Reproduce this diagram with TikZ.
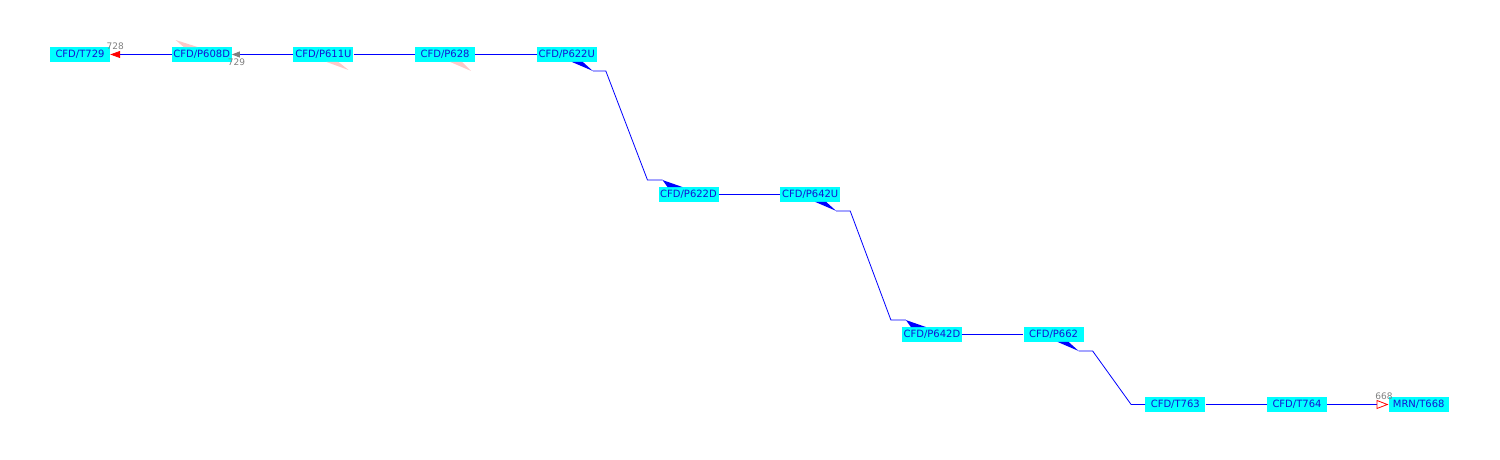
\documentclass[tikz,border=0pt]{standalone}
\usepackage{fontspec}
\setmainfont{DejaVu Sans}
\usetikzlibrary{positioning,arrows.meta}

\definecolor{boxcyan}{RGB}{0,255,255}
\definecolor{textblue}{RGB}{20,20,210}
\definecolor{ghostpink}{RGB}{255,200,200}
\tikzstyle{box} = [rectangle, minimum width=60pt, minimum height=14.5pt,
inner sep=0pt, fill=boxcyan, text=textblue, font=\fontsize{10}{12}\selectfont]
\tikzstyle{num} = [inner sep=0pt, text=gray, font=\fontsize{9}{10}\selectfont]
\tikzstyle{link} = [blue, line width=0.8pt]
\tikzstyle{wedge} = [fill=blue]
\tikzstyle{ghost} = [fill=ghostpink]

\begin{document}
\begin{tikzpicture}[x=1pt, y=1pt, node distance=121.7pt]
  \useasboundingbox (0,0) rectangle (1500,460);
  \node (t729) [box] at (80,405.5) {CFD/T729};
  \node (p608d) [box, right of=t729] {CFD/P608D};
  \node (p611u) [box, right of=p608d] {CFD/P611U};
  \node (p628) [box, right of=p611u] {CFD/P628};
  \node (p622u) [box, right of=p628] {CFD/P622U};
  \node (p622d) [box, right of=p622u, yshift=-140pt] {CFD/P622D};
  \node (p642u) [box, right of=p622d] {CFD/P642U};
  \node (p642d) [box, right of=p642u, yshift=-140pt] {CFD/P642D};
  \node (p662) [box, right of=p642d] {CFD/P662};
  \node (t763) [box, right of=p662, yshift=-70pt] {CFD/T763};
  \node (t764) [box, right of=t763] {CFD/T764};
  \node (mrn) [box, right of=t764] {MRN/T668};
  % connections
  \draw [link, -{Triangle[color=red, fill=red, length=10pt, width=7pt]}] (p608d) -- (t729)
    node [num, at end, anchor=south, xshift=5pt, yshift=4pt] {728};
  \draw [link, -{Triangle[color=gray, fill=gray, length=8pt, width=6pt]}] (p611u) -- (p608d)
    node [num, at end, anchor=south, xshift=4.5pt, yshift=-12pt] {729};
  \draw [link] (p611u) -- (p628);
  \draw [link] (p628) -- (p622u);
  \draw [link] (p622d) -- (p642u);
  \draw [link] (p642d) -- (p662);
  \draw [link] (t763) -- (t764);
  \draw [link, -{Triangle[open, color=red, length=12pt, width=9pt]}] (t764) -- (mrn)
    node [num, at end, anchor=south, xshift=-4.5pt, yshift=4pt] {668};
  % stair links
  \draw [link] ([xshift=26pt, yshift=-9pt]p622u.south) -- ++(13,0)
    -- ([xshift=-41pt, yshift=7pt]p622d.north) -- ++(15,0);
  \draw [link] ([xshift=26pt, yshift=-9pt]p642u.south) -- ++(14,0)
    -- ([xshift=-41pt, yshift=7pt]p642d.north) -- ++(15,0);
  \draw [link] ([xshift=25pt, yshift=-9pt]p662.south) -- ++(14,0)
    -- ([xshift=-14pt]t763.west) -- (t763.west);
  % wedges
  \fill [wedge] ([xshift=5pt]p622u.south) -- ([xshift=16pt]p622u.south)
    -- ([xshift=26pt, yshift=-9pt]p622u.south) -- cycle;
  \fill [wedge] ([xshift=-26pt, yshift=7pt]p622d.north) -- ([xshift=-21pt]p622d.north)
    -- ([xshift=-6pt]p622d.north) -- cycle;
  \fill [wedge] ([xshift=5pt]p642u.south) -- ([xshift=16pt]p642u.south)
    -- ([xshift=26pt, yshift=-9pt]p642u.south) -- cycle;
  \fill [wedge] ([xshift=-26pt, yshift=7pt]p642d.north) -- ([xshift=-21pt]p642d.north)
    -- ([xshift=-6pt]p642d.north) -- cycle;
  \fill [wedge] ([xshift=4pt]p662.south) -- ([xshift=15pt]p662.south)
    -- ([xshift=25pt, yshift=-9pt]p662.south) -- cycle;
  \fill [ghost] ([xshift=-26pt, yshift=7pt]p608d.north) -- ([xshift=-18pt]p608d.north)
    -- ([xshift=-4pt]p608d.north) -- cycle;
  \fill [ghost] ([xshift=3pt]p611u.south) -- ([xshift=15pt]p611u.south)
    -- ([xshift=25pt, yshift=-8pt]p611u.south) -- cycle;
  \fill [ghost] ([xshift=5pt]p628.south) -- ([xshift=17pt]p628.south)
    -- ([xshift=26pt, yshift=-9pt]p628.south) -- cycle;
\end{tikzpicture}
\end{document}
